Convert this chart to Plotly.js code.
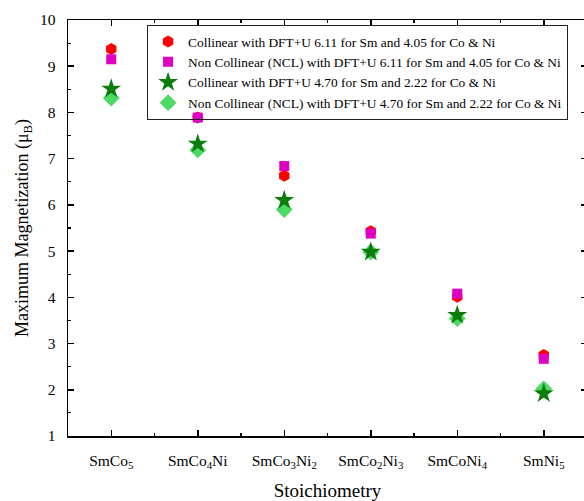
<!DOCTYPE html>
<html><head><meta charset="utf-8">
<script src="https://cdn.plot.ly/plotly-3.0.1.min.js"></script>
<style>html,body{margin:0;padding:0;overflow:hidden;background:#fff}</style>
</head><body><div id="chart"></div>
<script>
const categories = ['SmCo<sub>5</sub>','SmCo<sub>4</sub>Ni','SmCo<sub>3</sub>Ni<sub>2</sub>','SmCo<sub>2</sub>Ni<sub>3</sub>','SmCoNi<sub>4</sub>','SmNi<sub>5</sub>'];
const collinearU611 = [9.37, 7.89, 6.63, 5.43, 4.01, 2.75];
const nclU611 = [9.15, 7.89, 6.84, 5.38, 4.08, 2.67];
const collinearU470 = [8.51, 7.32, 6.10, 4.98, 3.61, 1.92];
const nclU470 = [8.31, 7.19, 5.90, 4.98, 3.54, 2.02];
const names = [
  'Collinear with DFT+U 6.11 for Sm and 4.05 for Co &amp; Ni',
  'Non Collinear (NCL) with DFT+U 6.11 for Sm and 4.05 for Co &amp; Ni',
  'Collinear with DFT+U 4.70 for Sm and 2.22 for Co &amp; Ni',
  'Non Collinear (NCL) with DFT+U 4.70 for Sm and 2.22 for Co &amp; Ni'
];
const idx = categories.map((_, i) => i);
const font = 'Liberation Serif';
const traces = [
  {x: idx, y: collinearU611, name: names[0], mode: 'markers', legendrank: 1,
   marker: {symbol: 'hexagon', size: 12, color: '#ff0000'}},
  {x: idx, y: nclU611, name: names[1], mode: 'markers', legendrank: 2,
   marker: {symbol: 'square', size: 10, color: '#e000c4'}},
  {x: idx, y: nclU470, name: names[3], mode: 'markers', legendrank: 4,
   marker: {symbol: 'diamond', size: 13, color: '#4cd964'}},
  {x: idx, y: collinearU470, name: names[2], mode: 'markers', legendrank: 3,
   marker: {symbol: 'star', size: 15, color: '#0a7d0a'}}
];
const layout = {
  width: 590, height: 501,
  margin: {l: 68, r: 3, t: 20, b: 65},
  paper_bgcolor: '#fff', plot_bgcolor: '#fff',
  font: {family: font, color: '#000', size: 15},
  showlegend: true,
  legend: {x: 0.152, y: 0.988, xanchor: 'left', yanchor: 'top',
    bordercolor: '#222', borderwidth: 1.2, bgcolor: 'rgba(255,255,255,0)',
    font: {family: font, size: 13.4, color: '#000'}, tracegroupgap: 0},
  xaxis: {range: [-0.5, 5.5], tickmode: 'array', tickvals: idx, ticktext: categories,
    showline: true, linecolor: '#000', linewidth: 1.5, mirror: 'ticks',
    ticks: 'inside', ticklen: 6, tickwidth: 1.5, tickcolor: '#000',
    showgrid: false, zeroline: false, ticklabelstandoff: 10,
    tickfont: {family: font, size: 15.5},
    minor: {tick0: 0.5, dtick: 1, ticks: 'inside', ticklen: 3, tickwidth: 1.2, tickcolor: '#000'},
    title: {text: 'Stoichiometry', font: {family: font, size: 19}, standoff: 14}},
  yaxis: {range: [1, 10], dtick: 1, showline: true, linecolor: '#000', linewidth: 1.5, mirror: 'ticks',
    ticks: 'inside', ticklen: 6, tickwidth: 1.5, tickcolor: '#000',
    showgrid: false, zeroline: false, ticklabelstandoff: 8,
    tickfont: {family: font, size: 15.5},
    minor: {dtick: 0.5, ticks: 'inside', ticklen: 3, tickwidth: 1.2, tickcolor: '#000'},
    title: {text: 'Maximum Magnetization (μ<sub>B</sub>)', font: {family: font, size: 18}, standoff: 6}}
};
Plotly.newPlot('chart', traces, layout, {displayModeBar: false, staticPlot: true});
</script></body></html>
